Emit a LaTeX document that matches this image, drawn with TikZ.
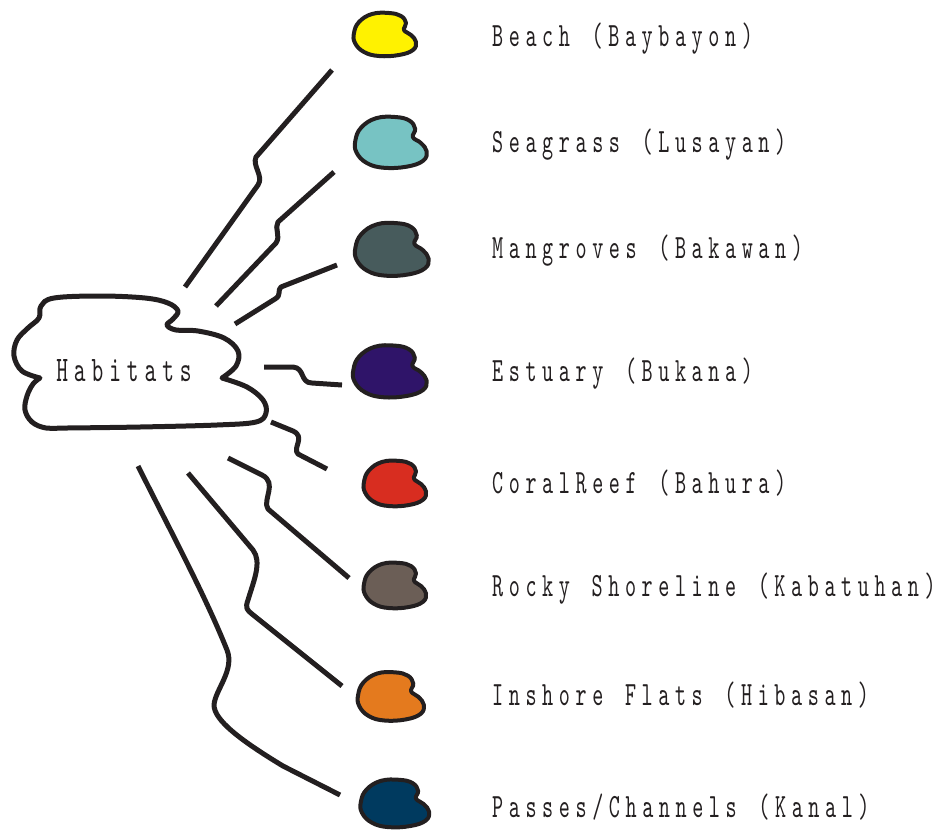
\documentclass[tikz,border=0pt]{standalone}
\usepackage{fontspec}
\newfontfamily\labelfont{lmmono10-regular.otf}[FakeStretch=0.62,LetterSpace=16.5,WordSpace=1.3]
\usetikzlibrary{calc}

\definecolor{ink}{HTML}{231F20}
\definecolor{beachcol}{HTML}{FFF200}
\definecolor{seagrasscol}{HTML}{77C3C3}
\definecolor{mangrovecol}{HTML}{475B5C}
\definecolor{estuarycol}{HTML}{2F1469}
\definecolor{coralcol}{HTML}{D82D20}
\definecolor{rockycol}{HTML}{6B5E56}
\definecolor{inshorecol}{HTML}{E47A1E}
\definecolor{passescol}{HTML}{003A5F}

\tikzset{
  blob/.pic={
    \draw[pic actions,draw=ink,line width=4pt]
      plot[smooth cycle,tension=0.7] coordinates {(-31,-2) (-26,-13) (-13,-21) (4,-22) (16,-19) (21,-12)
        (19,-5) (26,0) (31,7) (28,15) (14,20) (-6,21) (-21,17) (-30,8)};
  }
}

\begin{document}
\begin{tikzpicture}[x=1pt,y=-1pt,line join=round,
  link/.style={draw=ink,line width=5pt},
  habitat/.style={anchor=base west,text=ink,inner sep=0pt,font=\labelfont\fontsize{34}{34}\selectfont}]
  \useasboundingbox (0,0) rectangle (950,830);
  % --- the cloud ---
  \draw[ink,line width=5pt]
    plot[smooth,tension=0.6] coordinates {(40,378) (22,371) (14,356) (17,340) (28,328) (39,318) (41,306)
      (54,298) (100,296) (145,298) (168,303) (178,311) (173,319) (167,325) (176,330) (198,331)
      (224,338) (238,351) (236,366) (222,378)}
    -- plot[smooth,tension=0.6] coordinates {(222,378) (247,387) (263,400) (266,413) (256,422)
      (217,425) (140,427) (67,428) (46,428) (32,422) (25,410) (27,396) (33,384) (40,378)} -- cycle;
  \node[text=ink,inner sep=0pt,anchor=base,font=\labelfont\fontsize{36}{36}\selectfont] (habitats) at (124,381) {Habitats};
  % --- colour blobs ---
  \pic[fill=beachcol] at (385,35) {blob};
  \pic[fill=seagrasscol,xscale=1.15,yscale=1.18] at (391,143) {blob};
  \pic[fill=mangrovecol,xscale=1.18,yscale=1.22] at (392,250) {blob};
  \pic[fill=estuarycol,xscale=1.18,yscale=1.2] at (390,372) {blob};
  \pic[fill=coralcol,xscale=1.0,yscale=1.05] at (395,484) {blob};
  \pic[fill=rockycol,xscale=1.0,yscale=1.05] at (395,586) {blob};
  \pic[fill=inshorecol,xscale=1.06,yscale=1.12] at (391,697) {blob};
  \pic[fill=passescol,xscale=1.1,yscale=1.1] at (395,804) {blob};
  % --- labels ---
  \node[habitat] (beach)    at (492,46)  {Beach (Baybayon)};
  \node[habitat] (seagrass) at (492,152) {Seagrass (Lusayan)};
  \node[habitat] (mangrove) at (492,258) {Mangroves (Bakawan)};
  \node[habitat] (estuary)  at (492,381) {Estuary (Bukana)};
  \node[habitat] (coral)    at (492,493) {CoralReef (Bahura)};
  \node[habitat] (rocky)    at (492,596) {Rocky Shoreline (Kabatuhan)};
  \node[habitat] (inshore)  at (492,705) {Inshore Flats (Hibasan)};
  \node[habitat] (passes)   at (492,817) {Passes/Channels (Kanal)};
  % --- connector ends: cloud side (a) and blob side (b) ---
  \coordinate (beachA)    at (185,287);  \coordinate (beachB)    at (332,70);
  \coordinate (seagrassA) at (216,306);  \coordinate (seagrassB) at (334,172);
  \coordinate (mangroveA) at (235,324);  \coordinate (mangroveB) at (337,265);
  \coordinate (estuaryA)  at (264,367);  \coordinate (estuaryB)  at (342,385);
  \coordinate (coralA)    at (271,422);  \coordinate (coralB)    at (327,469);
  \coordinate (rockyA)    at (228,458);  \coordinate (rockyB)    at (349,578);
  \coordinate (inshoreA)  at (188,473);  \coordinate (inshoreB)  at (342,686);
  \coordinate (passesA)   at (138,466);  \coordinate (passesB)   at (340,795);
  % --- wavy connectors ---
  \draw[link] (beachA) -- (258,185) .. controls (264,176) and (252,166) .. (256,157) -- (beachB);
  \draw[link] (seagrassA) -- (276,243) .. controls (281,236) and (274,228) .. (278,222) -- (seagrassB);
  \draw[link] (mangroveA) -- (275,299) .. controls (282,295) and (277,290) .. (281,287) -- (mangroveB);
  \draw[link] (estuaryA) -- (293,367) .. controls (305,368) and (300,383) .. (312,383) -- (estuaryB);
  \draw[link] (coralA) -- (293,431) .. controls (306,437) and (292,448) .. (298,454) -- (coralB);
  \draw[link] (rockyA) -- (262,475) .. controls (278,483) and (262,500) .. (268,509) -- (rockyB);
  \draw[link] (inshoreA) -- (253,550) .. controls (262,562) and (254,580) .. (248,600)
    .. controls (245,608) and (247,610) .. (252,614) -- (inshoreB);
  \draw[link] (passesA) .. controls (170,530) and (205,595) .. (227,650)
    .. controls (235,670) and (215,690) .. (214,705)
    .. controls (214,720) and (240,740) .. (283,766) -- (passesB);
\end{tikzpicture}
\end{document}
